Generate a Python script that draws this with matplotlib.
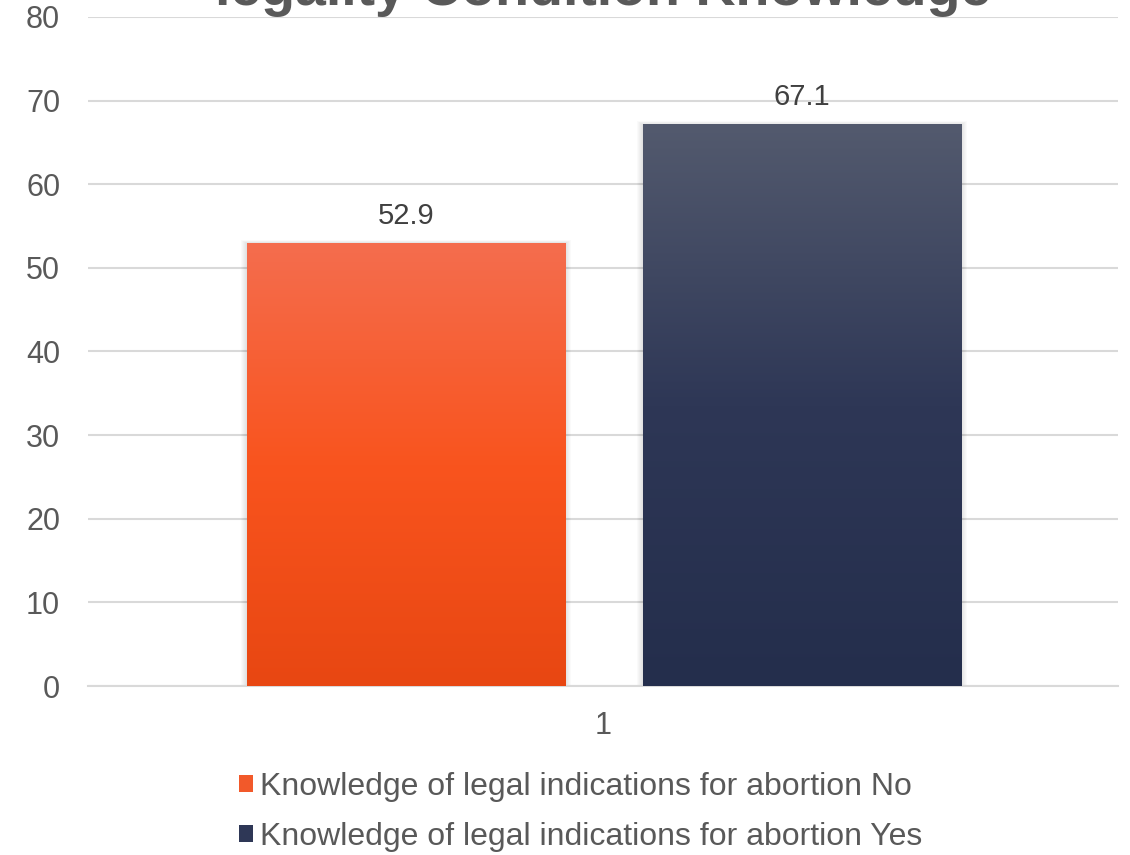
import numpy as np
import matplotlib
matplotlib.use("Agg")
import matplotlib.pyplot as plt
from matplotlib.colors import LinearSegmentedColormap
from matplotlib.patches import Rectangle

# ---- data ----
categories = ["1"]
series_names = [
    "Knowledge of legal indications for abortion No",
    "Knowledge of legal indications for abortion Yes",
]
series_values = [52.9, 67.1]
title_text = "legality Condition Knowledge"
y_ticks = [0, 10, 20, 30, 40, 50, 60, 70, 80]

# ---- styling ----
plt.rcParams["font.family"] = ["Liberation Sans", "DejaVu Sans"]
text_gray = "#595959"
grid_gray = "#D9D9D9"
gradients = [
    ["#E84712", "#F9541E", "#F46D4E"],   # bottom -> top
    ["#242E4C", "#2E3756", "#535A6E"],
]
legend_colors = ["#F2592A", "#2E3756"]

fig = plt.figure(figsize=(11.3, 8.55), dpi=100)
ax = fig.add_axes([88 / 1130, 169 / 855, 1030 / 1130, 669 / 855])
ax.set_xlim(-0.5, 0.5)
ax.set_ylim(0, 80)

bar_width = 0.309
offsets = [-0.191, 0.193]

px_x = 1.0 / 1030   # one pixel in data x units
px_y = 80.0 / 669   # one pixel in data y units

for name, val, off, stops in zip(series_names, series_values, offsets, gradients):
    x0 = off - bar_width / 2
    x1 = off + bar_width / 2
    # soft drop shadow
    for k in range(1, 7):
        ax.add_patch(Rectangle((x0 - k * px_x, 0), bar_width + 2 * k * px_x,
                               val + k * px_y * 0.6, facecolor="black",
                               edgecolor="none", alpha=0.018, zorder=2))
    cmap = LinearSegmentedColormap.from_list(name, stops)
    grad = np.linspace(0, 1, 256).reshape(-1, 1)
    ax.imshow(grad, cmap=cmap, origin="lower", extent=(x0, x1, 0, val),
              aspect="auto", zorder=3, interpolation="bicubic")
    ax.annotate(f"{val:.1f}", xy=(off, val), xytext=(0, 10),
                textcoords="offset points", ha="center", va="bottom",
                fontsize=21, color="#404040", zorder=5)

ax.set_xlim(-0.5, 0.5)
ax.set_ylim(0, 80)
ax.set_xticks([0])
ax.set_xticklabels(categories)
ax.set_yticks(y_ticks)
ax.tick_params(axis="both", length=0, labelsize=22, labelcolor=text_gray)
ax.tick_params(axis="y", pad=20)
ax.tick_params(axis="x", pad=18)
ax.grid(axis="y", color=grid_gray, linewidth=1.5, zorder=0)
ax.set_axisbelow(True)
for s in ["left", "right", "top"]:
    ax.spines[s].set_visible(False)
ax.spines["bottom"].set_color(grid_gray)
ax.spines["bottom"].set_linewidth(1.5)

# title, mostly above the visible area
fig.text(603 / 1130, 1 - 5 / 855, title_text, ha="center", va="baseline",
         fontsize=40, fontweight="bold", color=text_gray)

# legend
handles = [Rectangle((0, 0), 1, 1, facecolor=c, edgecolor="none") for c in legend_colors]
leg = fig.legend(handles, series_names, loc="upper left",
                 bbox_to_anchor=(239 / 1130, 1 - 772 / 855), frameon=False,
                 fontsize=23, labelcolor=text_gray, handlelength=0.45,
                 handleheight=0.45, handletextpad=0.2, labelspacing=0.62,
                 borderaxespad=0, borderpad=0)

fig.savefig("out.png", dpi=100)
